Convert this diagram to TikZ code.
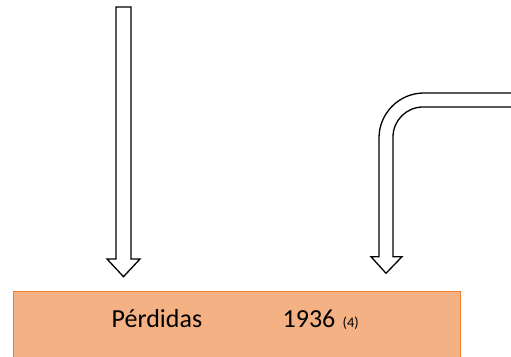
\documentclass[tikz,border=0pt]{standalone}
\usepackage{fontspec}
\setmainfont{Carlito}
\definecolor{boxfill}{HTML}{F4B183}
\definecolor{boxline}{HTML}{ED7D31}
\begin{document}
\begin{tikzpicture}[x=1pt,y=1pt,
  blockarrow/.style={draw=black,line width=1.3pt,fill=white,line join=miter},
  lbl/.style={inner sep=0pt,anchor=base west,font=\fontsize{26}{30}\selectfont},
  small/.style={inner sep=0pt,anchor=base west,font=\fontsize{14.5}{17}\selectfont}]
\useasboundingbox (0,0) rectangle (511,356);
\clip (0,0) rectangle (511,356);
% box
\draw[fill=boxfill,draw=boxline,line width=1pt] (13,-5) rectangle (460,64.3);
\node[lbl] (perd) at (111.5,28.8) {Pérdidas};
\node[lbl] (year) at (282.5,28.8) {1936};
\node[small] (note) at (342.5,28.8) {(4)};
% left straight arrow
\draw[blockarrow] (116,349) -- (131,349) -- (131,97) -- (140,97) -- (123.5,79.3)
  -- (107,97) -- (116,97) -- cycle;
% bent arrow
\draw[blockarrow] (520,263) -- (424,263) arc[start angle=90,end angle=180,radius=45]
  -- (379,99.3) -- (371,99.3) -- (386,82.7) -- (402,99.3) -- (393,99.3)
  -- (393,219) arc[start angle=180,end angle=90,radius=30] -- (520,249);
\end{tikzpicture}
\end{document}
